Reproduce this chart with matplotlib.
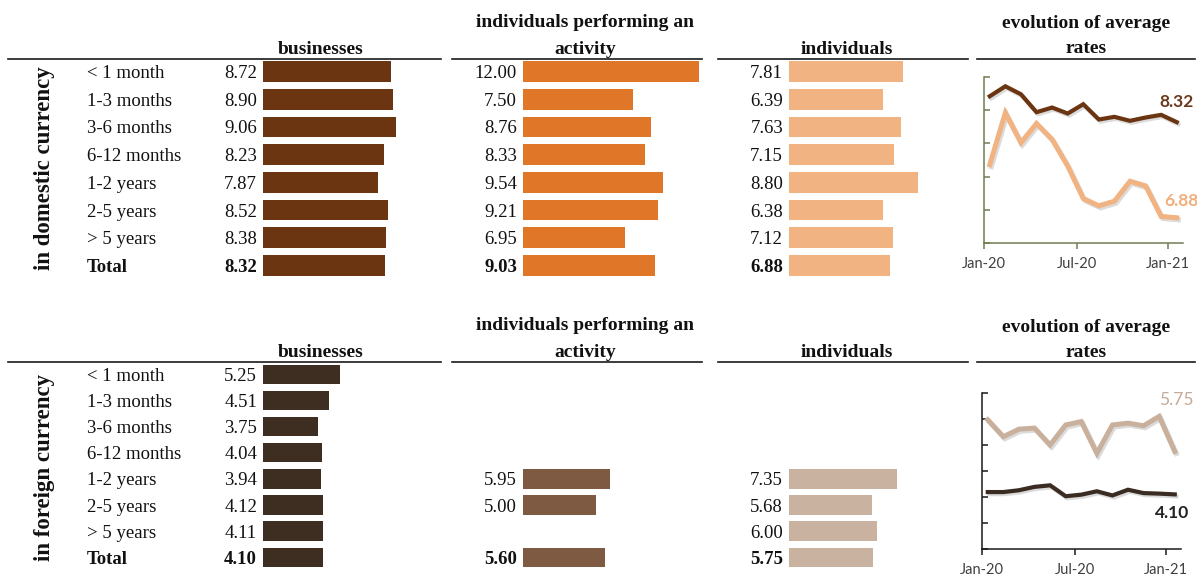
import numpy as np
import matplotlib
matplotlib.use("Agg")
import matplotlib.pyplot as plt
from matplotlib.lines import Line2D
import matplotlib.transforms as mtransforms
import matplotlib.patheffects as pe

# ---------------- data ----------------
terms = ['< 1 month', '1-3 months', '3-6 months', '6-12 months',
         '1-2 years', '2-5 years', '> 5 years', 'Total']

dom_business = [8.72, 8.90, 9.06, 8.23, 7.87, 8.52, 8.38, 8.32]
dom_activity = [12.00, 7.50, 8.76, 8.33, 9.54, 9.21, 6.95, 9.03]
dom_individuals = [7.81, 6.39, 7.63, 7.15, 8.80, 6.38, 7.12, 6.88]

nan = np.nan
for_business = [5.25, 4.51, 3.75, 4.04, 3.94, 4.12, 4.11, 4.10]
for_activity = [nan, nan, nan, nan, 5.95, 5.00, nan, 5.60]
for_individuals = [nan, nan, nan, nan, 7.35, 5.68, 6.00, 5.75]

months = ['Jan-20', 'Feb-20', 'Mar-20', 'Apr-20', 'May-20', 'Jun-20', 'Jul-20',
          'Aug-20', 'Sep-20', 'Oct-20', 'Nov-20', 'Dec-20', 'Jan-21']
dom_evo_business = [8.71, 8.86, 8.74, 8.47, 8.54, 8.45, 8.59, 8.36, 8.40, 8.34, 8.39, 8.43, 8.32]
dom_evo_individuals = [7.68, 8.46, 8.01, 8.30, 8.06, 7.66, 7.17, 7.06, 7.13, 7.43, 7.36, 6.90, 6.88]
for_evo_business = [4.19, 4.19, 4.26, 4.39, 4.45, 4.03, 4.09, 4.22, 4.06, 4.28, 4.15, 4.13, 4.10]
for_evo_individuals = [6.97, 6.32, 6.61, 6.65, 6.00, 6.77, 6.90, 5.68, 6.77, 6.84, 6.74, 7.10, 5.75]
evo_tick_labels = ['Jan-20', 'Jul-20', 'Jan-21']

col_headers = ['businesses', 'individuals performing an\nactivity', 'individuals']
evo_header = 'evolution of average\nrates'
panel_labels = ['in domestic currency', 'in foreign currency']

# ---------------- styling ----------------
W, H = 1197, 575
fig = plt.figure(figsize=(W / 100, H / 100), dpi=100)
fig.patch.set_facecolor('white')

SERIF = ['Liberation Serif', 'DejaVu Serif']
SANS = ['Lato', 'DejaVu Sans']
FS = 13.5
HFS = 14
PX_PER_UNIT = 14.66
BAR_AX_W = 200
TXT_DY = -1.5  # points: text sits slightly below bar centre

def add_ax_px(left, top, width, height):
    return fig.add_axes([left / W, 1 - (top + height) / H, width / W, height / H])

def hline(x0, x1, y):
    fig.add_artist(Line2D([x0 / W, x1 / W], [1 - y / H, 1 - y / H],
                          transform=fig.transFigure, color='#1a1a1a', lw=1.2))

def htext(x, y, s):
    fig.text(x / W, 1 - y / H, s, ha='center', va='baseline',
             family=SERIF, weight='bold', fontsize=HFS, color='#111111')

panels = [
    dict(values=[dom_business, dom_activity, dom_individuals],
         colors=['#6B3511', '#E07628', '#F2B383'],
         row0=71.5, step=27.7, bar_h=0.75, line_y=59, hdr_y1=27, hdr_y2=54,
         evo_y1=28, evo_y2=53, vlabel_y=168),
    dict(values=[for_business, for_activity, for_individuals],
         colors=['#3E2E22', '#7D5A41', '#C9B2A0'],
         row0=374.5, step=26.1, bar_h=0.74, line_y=362, hdr_y1=330, hdr_y2=357,
         evo_y1=332, evo_y2=357, vlabel_y=467),
]
bar_lefts = [263, 523, 789]
hdr_centers = [321, 585, 847]
line_segments = [(8, 441), (452, 702), (718, 968), (977, 1195)]

for p_i, p in enumerate(panels):
    for (x0, x1) in line_segments:
        hline(x0, x1, p['line_y'])
    for c_i, hdr in enumerate(col_headers):
        parts = hdr.split('\n')
        if len(parts) == 2:
            htext(hdr_centers[c_i], p['hdr_y1'], parts[0])
            htext(hdr_centers[c_i], p['hdr_y2'], parts[1])
        else:
            htext(hdr_centers[c_i], p['hdr_y2'], parts[0])
    e1, e2 = evo_header.split('\n')
    htext(1086, p['evo_y1'], e1)
    htext(1086, p['evo_y2'], e2)

    fig.text(45 / W, 1 - p['vlabel_y'] / H, panel_labels[p_i], rotation=90, ha='center', va='center',
             family=SERIF, weight='bold', fontsize=16.5, color='#111111')

    n = len(terms)
    top = p['row0'] - p['step'] / 2
    height = n * p['step']
    y = np.arange(n)
    for c_i in range(3):
        ax = add_ax_px(bar_lefts[c_i], top, BAR_AX_W, height)
        vals = np.array(p['values'][c_i], dtype=float)
        ok = ~np.isnan(vals)
        ax.barh(y[ok], vals[ok], height=p['bar_h'], color=p['colors'][c_i], edgecolor='none')
        ax.set_xlim(0, BAR_AX_W / PX_PER_UNIT)
        ax.set_ylim(n - 0.5, -0.5)
        ax.axis('off')
        for i in y[ok]:
            ax.annotate(f'{vals[i]:.2f}', xy=(0, i), xytext=(-4.3, TXT_DY), textcoords='offset points',
                        ha='right', va='center', family=SERIF, fontsize=FS, color='#111111',
                        weight='bold' if terms[i] == 'Total' else 'normal', annotation_clip=False)
        if c_i == 0:
            tr = mtransforms.blended_transform_factory(fig.transFigure, ax.transData)
            for i, t in enumerate(terms):
                ax.annotate(t, xy=(87 / W, i), xycoords=tr, xytext=(0, TXT_DY),
                            textcoords='offset points', ha='left', va='center', family=SERIF,
                            fontsize=FS, color='#111111',
                            weight='bold' if t == 'Total' else 'normal', annotation_clip=False)

# ---------------- evolution line charts ----------------
xm = np.arange(len(months))
tick_pos = [-0.37, 5.57, 11.45]

def evo_chart(box, ylim, yticks, s_dark, s_light, c_dark, c_light, axis_color,
              lab_dark, lab_light, off_dark, off_light, light_bold):
    ax = add_ax_px(*box)
    shadow = [pe.SimpleLineShadow(offset=(1.2, -1.5), shadow_color='#888888', alpha=0.3),
              pe.Normal()]
    ax.plot(xm, s_light, color=c_light, lw=3.6, solid_joinstyle='miter', path_effects=shadow,
            clip_on=False)
    ax.plot(xm, s_dark, color=c_dark, lw=3.0, solid_joinstyle='miter', path_effects=shadow,
            clip_on=False)
    ax.set_xlim(-0.37, 12.4)
    ax.set_ylim(*ylim)
    ax.set_yticks(yticks)
    ax.set_yticklabels([])
    ax.set_xticks(tick_pos)
    ax.set_xticklabels(evo_tick_labels, family=SANS, fontsize=10.5, color='#404040')
    for s in ['top', 'right']:
        ax.spines[s].set_visible(False)
    for s in ['left', 'bottom']:
        ax.spines[s].set_color(axis_color)
        ax.spines[s].set_linewidth(1.1)
    ax.tick_params(axis='y', direction='in', length=4, width=1.1, color=axis_color)
    ax.tick_params(axis='x', direction='out', length=4, width=1.1, color=axis_color, pad=6)
    ax.patch.set_alpha(0)
    ax.annotate(f'{s_dark[-1]:.2f}', xy=(xm[-1], s_dark[-1]), xytext=off_dark,
                textcoords='offset points', ha='center', va='center', family=SANS,
                fontsize=12.5, weight='bold', color=lab_dark, annotation_clip=False)
    ax.annotate(f'{s_light[-1]:.2f}', xy=(xm[-1], s_light[-1]), xytext=off_light,
                textcoords='offset points', ha='center', va='center', family=SANS,
                fontsize=12.5, weight='bold' if light_bold else 'normal', color=lab_light,
                annotation_clip=False)
    return ax

evo_chart((984, 77, 199, 166), (6.5, 9.0), [6.5, 7.0, 7.5, 8.0, 8.5, 9.0],
          dom_evo_business, dom_evo_individuals, '#6B3511', '#F2B383', '#6F7D52',
          '#6B3A1E', '#F0AE7C', (0, 14.5), (3, 12), True)
evo_chart((982, 393, 199, 156), (2, 8), [2, 3, 4, 5, 6, 7, 8],
          for_evo_business, for_evo_individuals, '#3A2C22', '#C9B09D', '#1a1a1a',
          '#222222', '#C4AA97', (-2, -13.5), (1, 37), False)

fig.savefig('out.png', dpi=100, facecolor='white')
